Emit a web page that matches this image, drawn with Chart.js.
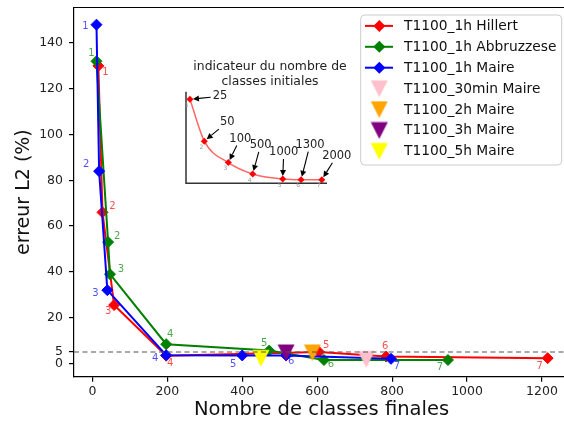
<!DOCTYPE html>
<html><head><meta charset="utf-8">
<script src="https://cdn.jsdelivr.net/npm/chart.js@4.4.1/dist/chart.umd.min.js"></script>
<style>
html,body{margin:0;padding:0;background:#fff;overflow:hidden;width:564px;height:422px;}
#wrap{position:relative;width:564px;height:422px;overflow:hidden;background:#fff;}
#main{position:absolute;left:0;top:0;}
#inset{position:absolute;left:160px;top:55px;}
</style></head>
<body><div id="wrap"><canvas id="main" width="620" height="422"></canvas><canvas id="inset" width="200" height="140"></canvas></div>
<script>
// ---------- data ----------
const finalClassesHillert = [16, 27, 58, 197, 605, 784, 1215];
const errorHillert        = [130, 66, 25.5, 3.4, 5.0, 3.0, 2.3];
const finalClassesAbbruzzese = [11, 42, 47, 197, 472, 618, 949];
const errorAbbruzzese        = [132, 53, 39, 8.4, 5.6, 1.5, 1.5];
const finalClassesMaire = [11, 18, 40, 197, 400, 517, 797];
const errorMaire        = [148, 84, 32, 3.6, 3.5, 3.5, 2.0];
const seriesLabels = ['T1100_1h Hillert', 'T1100_1h Abbruzzese', 'T1100_1h Maire'];
const singleLabels = ['T1100_30min Maire', 'T1100_2h Maire', 'T1100_3h Maire', 'T1100_5h Maire'];
const singleX = [731, 587, 517, 450];
const singleY = [1.8, 4.7, 4.7, 2.3];
const pointIndex = ['1', '2', '3', '4', '5', '6', '7'];
const xTicks = [0, 200, 400, 600, 800, 1000, 1200];
const yTicks = [0, 5, 20, 40, 60, 80, 100, 120, 140];
const threshold = 5;
const insetInitialClasses = ['25', '50', '100', '500', '1000', '1300', '2000'];
const insetX = [2.8, 13, 30, 47.3, 68.6, 81.6, 96.3];
const insetY = [91.7, 46, 22.6, 10.2, 4.7, 3.9, 3.9];
const insetTitle = ['indicateur du nombre de', 'classes initiales'];

// ---------- styles ----------
const FONT = "'DejaVu Sans', sans-serif";
Chart.defaults.font.family = FONT;
Chart.defaults.color = '#222';
const lineColors = ['#ff0000', '#008000', '#0000ff'];
const labelColors = ['rgba(255,0,0,0.7)', 'rgba(0,128,0,0.7)', 'rgba(0,0,255,0.7)'];
const singleColors = ['#ffc0cb', '#ffa500', '#800080', '#ffff00'];
const labelOffsets = [
  [[7,7],[10,-6],[-6,6],[4,8],[7,-7],[-1,-10],[-8,8]],
  [[-5,-8],[9,-6],[11,-5],[4,-10],[-5,-7],[7,4],[-8,7]],
  [[-11,2],[-13,-7],[-12,3],[-11,3],[-9,9],[5,6],[6,8]]
];

function triImg(color) {
  const c = document.createElement('canvas');
  c.width = 18; c.height = 18;
  const g = c.getContext('2d');
  g.fillStyle = color;
  g.beginPath(); g.moveTo(0.5, 0.8); g.lineTo(17.5, 0.8); g.lineTo(9, 17.5); g.closePath(); g.fill();
  return c;
}
const triangles = singleColors.map(triImg);

const pts = (xs, ys) => xs.map((x, i) => ({x: x, y: ys[i]}));

const lineSets = [
  [finalClassesHillert, errorHillert],
  [finalClassesAbbruzzese, errorAbbruzzese],
  [finalClassesMaire, errorMaire]
];
const datasets = lineSets.map((s, i) => ({
  label: seriesLabels[i],
  data: pts(s[0], s[1]),
  borderColor: lineColors[i],
  backgroundColor: lineColors[i],
  borderWidth: 2,
  pointStyle: 'rectRot',
  pointRadius: 5.5,
  pointBorderWidth: 1,
  pointBackgroundColor: lineColors[i],
  pointBorderColor: lineColors[i],
  showLine: true,
  order: 10 - i
}));
singleLabels.forEach((lab, i) => {
  datasets.push({
    label: lab,
    data: [{x: singleX[i], y: singleY[i]}],
    showLine: false,
    pointStyle: triangles[i],
    pointRadius: 9,
    backgroundColor: singleColors[i],
    borderColor: singleColors[i],
    order: 4 - i
  });
});

const decor = {
  id: 'decor',
  afterDatasetsDraw(chart) {
    const {ctx, chartArea: a, scales: {x, y}} = chart;
    ctx.save();
    const yp = y.getPixelForValue(threshold);
    ctx.strokeStyle = '#555'; ctx.lineWidth = 1.2; ctx.setLineDash([5, 3.5]);
    ctx.beginPath(); ctx.moveTo(a.left, yp); ctx.lineTo(a.right, yp); ctx.stroke();
    ctx.setLineDash([]);
    ctx.font = '10px ' + FONT; ctx.textAlign = 'center'; ctx.textBaseline = 'middle';
    for (let d = 0; d < 3; d++) {
      const meta = chart.getDatasetMeta(d);
      ctx.fillStyle = labelColors[d];
      meta.data.forEach((p, i) => {
        const o = labelOffsets[d][i];
        ctx.fillText(pointIndex[i], p.x + o[0], p.y + o[1]);
      });
    }
    ctx.strokeStyle = '#000'; ctx.lineWidth = 1.2;
    ctx.beginPath(); ctx.moveTo(a.left, a.top); ctx.lineTo(a.right, a.top); ctx.stroke();
    // legend
    const bx = 360.7, by = 15, bw = 201, bh = 150, r = 4;
    ctx.fillStyle = 'rgba(255,255,255,0.85)'; ctx.strokeStyle = '#cccccc'; ctx.lineWidth = 1;
    ctx.beginPath();
    ctx.moveTo(bx + r, by); ctx.lineTo(bx + bw - r, by); ctx.quadraticCurveTo(bx + bw, by, bx + bw, by + r);
    ctx.lineTo(bx + bw, by + bh - r); ctx.quadraticCurveTo(bx + bw, by + bh, bx + bw - r, by + bh);
    ctx.lineTo(bx + r, by + bh); ctx.quadraticCurveTo(bx, by + bh, bx, by + bh - r);
    ctx.lineTo(bx, by + r); ctx.quadraticCurveTo(bx, by, bx + r, by); ctx.closePath();
    ctx.fill(); ctx.stroke();
    const rowY0 = 25.9, rowH = 20.9, mx = 379.3, tx = 404;
    ctx.font = '13.8px ' + FONT; ctx.textAlign = 'left'; ctx.textBaseline = 'middle';
    chart.data.datasets.forEach((ds, i) => {
      const ry = rowY0 + i * rowH;
      if (i < 3) {
        ctx.strokeStyle = lineColors[i]; ctx.lineWidth = 2;
        ctx.beginPath(); ctx.moveTo(365, ry); ctx.lineTo(393, ry); ctx.stroke();
        ctx.fillStyle = lineColors[i];
        ctx.beginPath(); ctx.moveTo(mx, ry - 6); ctx.lineTo(mx + 6, ry); ctx.lineTo(mx, ry + 6); ctx.lineTo(mx - 6, ry); ctx.closePath(); ctx.fill();
      } else {
        const img = triangles[i - 3];
        ctx.drawImage(img, mx - img.width / 2, ry - img.height / 2);
      }
      ctx.fillStyle = '#111';
      ctx.fillText(ds.label, tx, ry + 0.5);
    });
    ctx.restore();
  }
};

const zeroPad = s => { s.paddingTop = 0; s.paddingBottom = 0; s.paddingLeft = 0; s.paddingRight = 0; };

new Chart(document.getElementById('main'), {
  type: 'line',
  data: {datasets: datasets},
  options: {
    responsive: false, animation: false, devicePixelRatio: 1,
    layout: {autoPadding: false, padding: {left: 0, right: 51, top: 7.5, bottom: 0}},
    plugins: {legend: {display: false}, tooltip: {enabled: false}},
    scales: {
      x: {
        type: 'linear', min: -49, max: 1272,
        afterBuildTicks: s => { s.ticks = xTicks.map(v => ({value: v})); },
        afterFit: s => { s.height = 45.3; zeroPad(s); },
        ticks: {font: {size: 12.5}, color: '#222', padding: 3, maxRotation: 0, callback: v => String(v)},
        grid: {display: true, drawOnChartArea: false, drawTicks: true, tickLength: 5, color: '#000', lineWidth: 1.2},
        border: {display: true, color: '#000', width: 1.2},
        title: {display: true, text: 'Nombre de classes finales', font: {size: 19.5, lineHeight: 1.2}, color: '#111', padding: 0}
      },
      y: {
        type: 'linear', min: -5.8, max: 155.5,
        afterBuildTicks: s => { s.ticks = yTicks.map(v => ({value: v})); },
        afterFit: s => { s.width = 74; zeroPad(s); },
        ticks: {font: {size: 12.5}, color: '#222', padding: 6, callback: v => String(v)},
        grid: {display: true, drawOnChartArea: false, drawTicks: true, tickLength: 5, color: '#000', lineWidth: 1.2},
        border: {display: true, color: '#000', width: 1.2},
        title: {display: true, text: 'erreur L2 (%)', font: {size: 19, lineHeight: 1.2}, color: '#111', padding: {top: 13, bottom: 0}}
      }
    }
  },
  plugins: [decor]
});

// ---------- inset ----------
const arrowOffsets = [[30,-3],[23,-19],[12,-24],[8,-29],[1,-27],[9,-35],[15,-24]];
const insetDecor = {
  id: 'insetDecor',
  afterDatasetsDraw(chart) {
    const {ctx, chartArea: a} = chart;
    ctx.save();
    ctx.strokeStyle = '#333'; ctx.lineWidth = 1.5;
    ctx.beginPath(); ctx.moveTo(a.left, a.top); ctx.lineTo(a.left, a.bottom); ctx.lineTo(a.right, a.bottom); ctx.stroke();
    ctx.fillStyle = '#222'; ctx.font = '12.4px ' + FONT; ctx.textAlign = 'center'; ctx.textBaseline = 'middle';
    ctx.fillText(insetTitle[0], a.left + 84, a.top - 25);
    ctx.fillText(insetTitle[1], a.left + 84, a.top - 10);
    const meta = chart.getDatasetMeta(0);
    ctx.font = '6px ' + FONT; ctx.fillStyle = '#999';
    meta.data.forEach((p, i) => ctx.fillText(pointIndex[i], p.x - 3, p.y + 6));
    ctx.font = '11.5px ' + FONT;
    meta.data.forEach((p, i) => {
      const o = arrowOffsets[i];
      const lx = p.x + o[0], ly = p.y + o[1];
      ctx.fillStyle = '#222';
      ctx.fillText(insetInitialClasses[i], lx, ly);
      const w = ctx.measureText(insetInitialClasses[i]).width;
      const dx = p.x - lx, dy = p.y - ly, len = Math.hypot(dx, dy);
      const t = Math.min(dx !== 0 ? (w / 2 + 2) / Math.abs(dx) : 1e9, dy !== 0 ? 7 / Math.abs(dy) : 1e9);
      const tx = lx + dx * t, ty = ly + dy * t;
      const ux = dx / len, uy = dy / len;
      const hx = p.x - ux * 3, hy = p.y - uy * 3;
      const hl = 6, hw = 3;
      ctx.strokeStyle = '#000'; ctx.lineWidth = 1.1;
      ctx.beginPath(); ctx.moveTo(tx, ty); ctx.lineTo(hx - ux * hl, hy - uy * hl); ctx.stroke();
      ctx.fillStyle = '#000';
      ctx.beginPath();
      ctx.moveTo(hx, hy);
      ctx.lineTo(hx - ux * hl - uy * hw, hy - uy * hl + ux * hw);
      ctx.lineTo(hx - ux * hl + uy * hw, hy - uy * hl - ux * hw);
      ctx.closePath(); ctx.fill();
    });
    ctx.restore();
  }
};
new Chart(document.getElementById('inset'), {
  type: 'line',
  data: {datasets: [{
    data: pts(insetX, insetY),
    borderColor: 'rgba(255,0,0,0.6)', borderWidth: 1.5,
    cubicInterpolationMode: 'monotone',
    pointStyle: 'rectRot', pointRadius: 3.5, pointBorderWidth: 0,
    pointBackgroundColor: '#ff0000', pointBorderColor: '#ff0000'
  }]},
  options: {
    responsive: false, animation: false, devicePixelRatio: 1,
    layout: {autoPadding: false, padding: {left: 26, right: 33, top: 36.7, bottom: 11.7}},
    plugins: {legend: {display: false}, tooltip: {enabled: false}},
    scales: {
      x: {type: 'linear', min: 0, max: 100, display: false},
      y: {type: 'linear', min: 0, max: 100, display: false}
    }
  },
  plugins: [insetDecor]
});
</script>
</body></html>
